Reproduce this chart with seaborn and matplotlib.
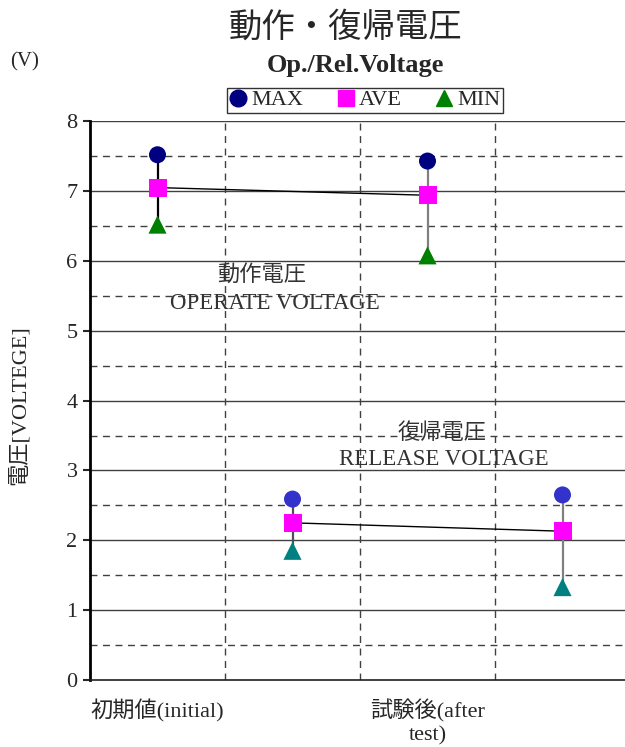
import matplotlib
matplotlib.use("Agg")
import matplotlib.pyplot as plt
from matplotlib.lines import Line2D
import pandas as pd
import seaborn as sns

# グループ位置 (0.5刻みの列中心)
groups = ["op_init", "rel_init", "op_after", "rel_after"]
group_x = [0.5, 1.5, 2.5, 3.5]
v_max = [7.52, 2.59, 7.43, 2.65]
v_ave = [7.05, 2.25, 6.94, 2.13]
v_min = [6.52, 1.85, 6.08, 1.33]

max_colors = ["#000080", "#3333CC", "#000080", "#3333CC"]
min_colors = ["#008000", "#008080", "#008000", "#008080"]
stem_colors = ["#000000", "#505050", "#808080", "#808080"]

cat_pos = [0.5, 2.5]
cat_labels = ["初期値(initial)", "試験後(after\ntest)"]

sns.set_style("white")
plt.rcParams["font.family"] = ["Liberation Serif", "Noto Sans CJK JP", "DejaVu Sans"]

df = pd.DataFrame({"group": groups, "x": group_x, "MAX": v_max,
                   "AVE": v_ave, "MIN": v_min})

fig = plt.figure(figsize=(6.25, 7.47), dpi=100)
ax = fig.add_axes([0.144, 0.0897, 0.864, 0.748])

# グリッド
for y in range(1, 9):
    ax.axhline(y, color="#404040", lw=1.0, zorder=0)
for y in [0.5, 1.5, 2.5, 3.5, 4.5, 5.5, 6.5, 7.5]:
    ax.axhline(y, color="#404040", lw=1.0, ls=(0, (5, 4)), zorder=0)
for x in [1, 2, 3]:
    ax.axvline(x, color="#404040", lw=1.0, ls=(0, (5, 4)), zorder=0)

# MIN-MAX の縦線
for i, row in df.iterrows():
    ax.plot([row["x"], row["x"]], [row["MIN"], row["MAX"]],
            color=stem_colors[i], lw=1.6, zorder=2)

# 平均の接続線
op = df[df["group"].str.startswith("op")]
rel = df[df["group"].str.startswith("rel")]
sns.lineplot(data=op, x="x", y="AVE", color="black", lw=1.0, ax=ax, zorder=3)
sns.lineplot(data=rel, x="x", y="AVE", color="black", lw=1.0, ax=ax, zorder=3)

sns.scatterplot(data=df, x="x", y="MAX", hue="group", palette=max_colors,
                marker="o", s=150, linewidth=0, legend=False, ax=ax, zorder=4)
sns.scatterplot(data=df, x="x", y="MIN", hue="group", palette=min_colors,
                marker="^", s=170, linewidth=0, legend=False, ax=ax, zorder=4)
sns.scatterplot(data=df, x="x", y="AVE", color="#FF00FF",
                marker="s", s=150, linewidth=0, legend=False, ax=ax, zorder=5)

ax.set_xlim(0, 4)
ax.set_ylim(0, 8)
ax.set_yticks(range(0, 9))
ax.set_xticks(cat_pos)
ax.set_xticklabels(cat_labels, fontsize=16, multialignment="center",
                   linespacing=1.25)
ax.tick_params(axis="x", length=0, pad=14)
ax.tick_params(axis="y", labelsize=16, length=5, width=1.5, direction="out",
               left=True, pad=4)
ax.set_xlabel("")
ax.set_ylabel("")

for side in ["top", "right"]:
    ax.spines[side].set_visible(False)
ax.spines["left"].set_linewidth(2.0)
ax.spines["left"].set_color("black")
ax.spines["bottom"].set_linewidth(1.2)
ax.spines["bottom"].set_color("#202020")

# 注記
ax.text(1.27, 5.79, "動作電圧", ha="center", va="center", fontsize=16, color="#333333")
ax.text(1.37, 5.39, "OPERATE VOLTAGE", ha="center", va="center", fontsize=16.5, color="#333333")
ax.text(2.61, 3.53, "復帰電圧", ha="center", va="center", fontsize=16, color="#333333")
ax.text(2.62, 3.16, "RELEASE VOLTAGE", ha="center", va="center", fontsize=16.5, color="#333333")

# タイトル・ラベル
fig.text(0.552, 0.963, "動作・復帰電圧", ha="center", va="center", fontsize=24)
fig.text(0.568, 0.912, "Op./Rel.Voltage", ha="center", va="center", fontsize=19,
         fontweight="bold")
fig.text(0.04, 0.917, "(V)", ha="center", va="center", fontsize=15)
fig.text(0.03, 0.458, "電圧[VOLTEGE]", ha="center", va="center", fontsize=16,
         rotation=90)

handles = [
    Line2D([], [], ls="", marker="o", color="#000080", markersize=12, label="MAX"),
    Line2D([], [], ls="", marker="s", color="#FF00FF", markersize=11, label="AVE"),
    Line2D([], [], ls="", marker="^", color="#008000", markersize=12, label="MIN"),
]
leg = fig.legend(handles=handles, loc="center", bbox_to_anchor=(0.584, 0.866),
                 ncol=3, fontsize=16, frameon=True, fancybox=False,
                 handlelength=0.8, handletextpad=0.2, columnspacing=1.5,
                 borderpad=0.1, edgecolor="black")
leg.get_frame().set_linewidth(1.0)

fig.savefig("out.png", dpi=100)
